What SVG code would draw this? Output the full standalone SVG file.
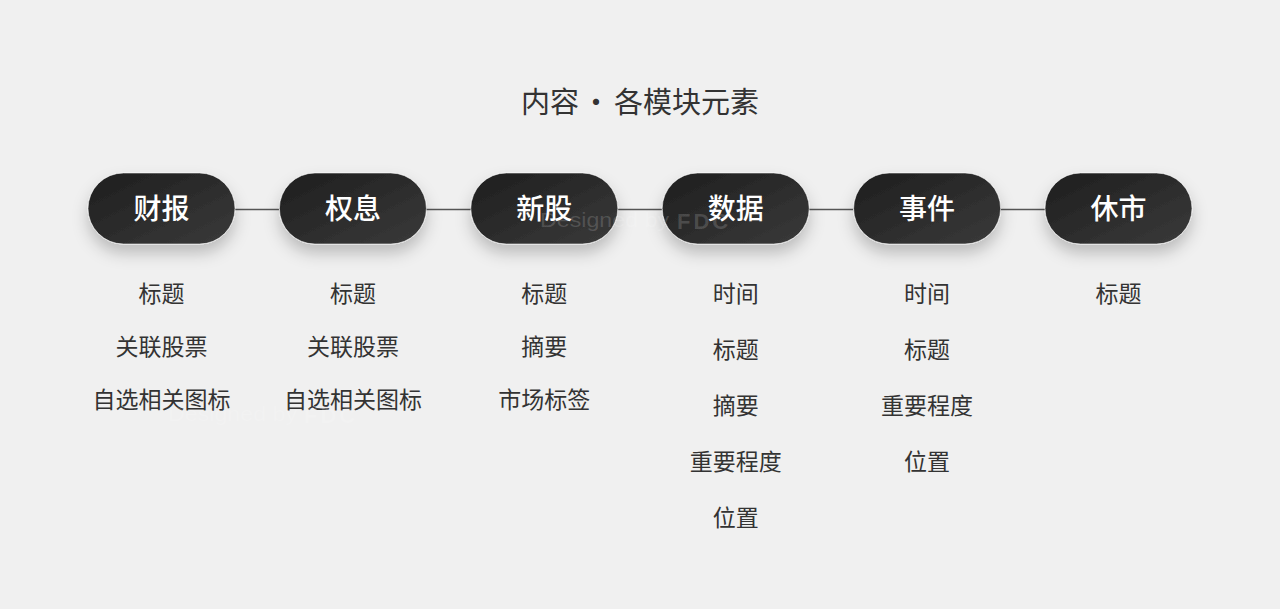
<svg xmlns="http://www.w3.org/2000/svg" width="1280" height="609" viewBox="0 0 1280 609">
<defs>
<linearGradient id="pillGrad" x1="0" y1="0" x2="1" y2="1">
<stop offset="0" stop-color="#1e1e1e"/>
<stop offset="1" stop-color="#3a3a3a"/>
</linearGradient>
<filter id="shadow" x="-30%" y="-40%" width="160%" height="200%">
<feDropShadow dx="0" dy="9" stdDeviation="8" flood-color="#000" flood-opacity="0.22"/>
</filter>
</defs>
<style>
.pill{fill:url(#pillGrad);stroke:#ffffff;stroke-opacity:0.55;stroke-width:1;filter:url(#shadow)}
.pt{font-family:"Noto Sans CJK SC","Noto Sans",sans-serif;font-size:28px;font-weight:500;fill:#ffffff;text-anchor:middle}
.it{font-family:"Noto Sans CJK SC","Noto Sans",sans-serif;font-size:23px;font-weight:400;fill:#333333;text-anchor:middle}
.title{font-family:"Noto Sans CJK SC","Noto Sans",sans-serif;font-size:29px;font-weight:400;fill:#333333}
.conn{stroke:#555555;stroke-width:1.5;fill:none}
.wm{font-family:"Liberation Sans",Arial,sans-serif;font-size:21px;font-weight:300;fill:#ffffff;fill-opacity:0.16}
.wmb{font-family:"Liberation Sans",Arial,sans-serif;font-size:22px;font-weight:700;fill:#ffffff;fill-opacity:0.16;letter-spacing:3px}
</style>
<rect width="1280" height="609" fill="#f0f0f0"/>
<g id="title">
<text class="title" y="112.5"><tspan x="521">内容</tspan><tspan x="581.5">·</tspan><tspan x="614">各模块元素</tspan></text>
</g>
<g id="connectors">
<line class="conn" x1="235" y1="209.5" x2="279" y2="209.5"/>
<line class="conn" x1="426" y1="209.5" x2="471" y2="209.5"/>
<line class="conn" x1="617" y1="209.5" x2="662" y2="209.5"/>
<line class="conn" x1="809" y1="209.5" x2="853" y2="209.5"/>
<line class="conn" x1="1000" y1="209.5" x2="1045" y2="209.5"/>
</g>
<g id="node-caibao">
<rect class="pill" x="88" y="173" width="147" height="71" rx="35.5"/>
<text class="pt" x="161.5" y="219">财报</text>
<text class="it" x="161.5" y="301.5">标题</text>
<text class="it" x="161.5" y="355">关联股票</text>
<text class="it" x="161.5" y="407.5">自选相关图标</text>
</g>
<g id="node-quanxi">
<rect class="pill" x="279.4" y="173" width="147" height="71" rx="35.5"/>
<text class="pt" x="352.9" y="219">权息</text>
<text class="it" x="352.9" y="301.5">标题</text>
<text class="it" x="352.9" y="355">关联股票</text>
<text class="it" x="352.9" y="407.5">自选相关图标</text>
</g>
<g id="node-xingu">
<rect class="pill" x="470.8" y="173" width="147" height="71" rx="35.5"/>
<text class="pt" x="544.3" y="219">新股</text>
<text class="it" x="544.3" y="301.5">标题</text>
<text class="it" x="544.3" y="355">摘要</text>
<text class="it" x="544.3" y="407.5">市场标签</text>
</g>
<g id="node-shuju">
<rect class="pill" x="662.2" y="173" width="147" height="71" rx="35.5"/>
<text class="pt" x="735.7" y="219">数据</text>
<text class="it" x="735.7" y="301.5">时间</text>
<text class="it" x="735.7" y="357.5">标题</text>
<text class="it" x="735.7" y="413.5">摘要</text>
<text class="it" x="735.7" y="469.5">重要程度</text>
<text class="it" x="735.7" y="525.5">位置</text>
</g>
<g id="node-shijian">
<rect class="pill" x="853.6" y="173" width="147" height="71" rx="35.5"/>
<text class="pt" x="927.1" y="219">事件</text>
<text class="it" x="927.1" y="301.5">时间</text>
<text class="it" x="927.1" y="357.5">标题</text>
<text class="it" x="927.1" y="413.5">重要程度</text>
<text class="it" x="927.1" y="469.5">位置</text>
</g>
<g id="node-xiushi">
<rect class="pill" x="1045" y="173" width="147" height="71" rx="35.5"/>
<text class="pt" x="1118.5" y="219">休市</text>
<text class="it" x="1118.5" y="301.5">标题</text>
</g>
<g id="watermarks">
<text class="wm" x="540" y="227" textLength="129" lengthAdjust="spacingAndGlyphs">Designed by</text>
<text class="wmb" x="677" y="229">FDC</text>
<text class="wm" x="168" y="421" textLength="129" lengthAdjust="spacingAndGlyphs">Designed by</text>
<text class="wmb" x="304" y="423">FDC</text>
</g>
</svg>
